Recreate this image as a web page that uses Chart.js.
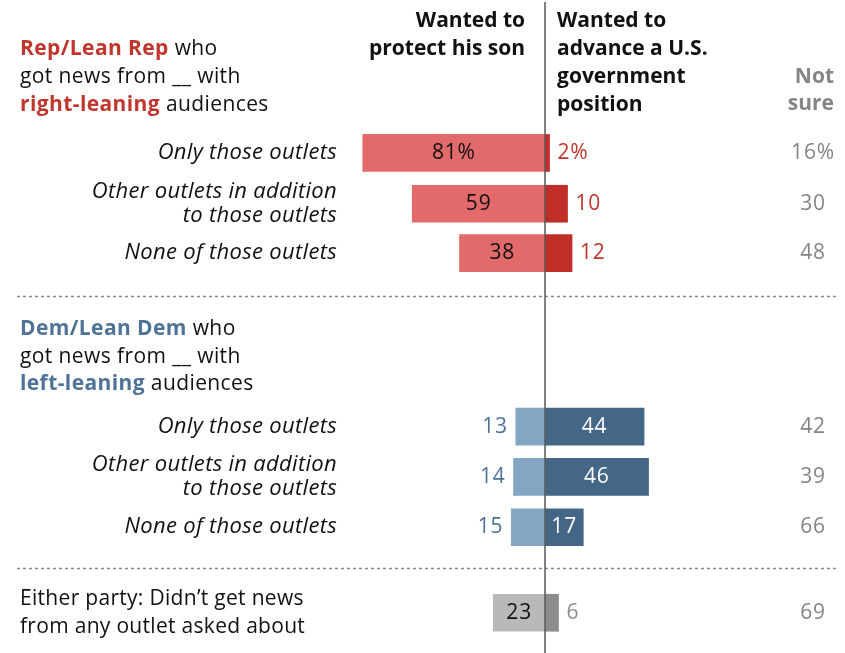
<!DOCTYPE html>
<html>
<head>
<meta charset="utf-8">
<script src="https://cdn.jsdelivr.net/npm/chart.js@4.4.1/dist/chart.umd.min.js"></script>
<style>
html,body{margin:0;padding:0;background:#fff}
#wrap{width:845px;height:653px;position:relative}
</style>
</head>
<body>
<div id="wrap"><canvas id="grafico"></canvas></div>
<script>

/* DATA */

const groups=["rep","rep","rep","dem","dem","dem","none"]

const rowLabels=[
"Only those outlets",
"Other outlets in addition\nto those outlets",
"None of those outlets",
"Only those outlets",
"Other outlets in addition\nto those outlets",
"None of those outlets",
"Either party: Didn\u2019t get news\nfrom any outlet asked about"
]

const protectSon=[81,59,38,13,14,15,23]
const advancePosition=[2,10,12,44,46,17,6]
const notSure=[16,30,48,42,39,66,69]

const colHeaders=["Wanted to\nprotect his son","Wanted to\nadvance a U.S.\ngovernment\nposition","Not\nsure"]

/* LAYOUT */

// row slots in units of one row pitch
const rowSlot=[0,1.01,1.99,5.44,6.44,7.44,9.14]
const sepSlot=[2.84,8.25]

const palette={
rep:{protect:"#e36a6a",advance:"#bf2f27",inside:"#111",outside:"#c0362c"},
dem:{protect:"#83a7c3",advance:"#446687",inside:"#fff",outside:"#4f7298"},
none:{protect:"#b9b9b9",advance:"#8c8c8c",inside:"#111",outside:"#8c8c8c"}
}

const GRAY="#858585"
const FONT="'Open Sans', 'Noto Sans', sans-serif"

/* TEXT HELPERS */

function setFont(ctx,spec,spacing){
ctx.font=spec+" "+FONT
ctx.letterSpacing=(spacing||0)+"px"
}

function runs(ctx,x,y,parts){
let cx=x
parts.forEach(p=>{
if(p.bold) setFont(ctx,"bold 21px",0.4)
else setFont(ctx,"21px",0.4)
ctx.fillStyle=p.color||"#111"
ctx.textAlign="left"
ctx.fillText(p.t,cx,y)
cx+=ctx.measureText(p.t).width
})
}

/* LABELS, HEADERS, RULES */

const annotate={
id:"annotate",
afterDatasetsDraw(chart){
const ctx=chart.ctx
const xs=chart.scales.x
const ys=chart.scales.y
const zero=xs.getPixelForValue(0)
const pMeta=chart.getDatasetMeta(0)
const aMeta=chart.getDatasetMeta(1)

ctx.save()
ctx.textBaseline="alphabetic"

// column headers
setFont(ctx,"bold 21px",0)
ctx.fillStyle="#111"
ctx.textAlign="right"
colHeaders[0].split("\n").forEach((l,i)=>ctx.fillText(l,zero-20,27+i*28))
ctx.textAlign="left"
colHeaders[1].split("\n").forEach((l,i)=>ctx.fillText(l,zero+12,27+i*28))
ctx.fillStyle=GRAY
ctx.textAlign="right"
colHeaders[2].split("\n").forEach((l,i)=>ctx.fillText(l,834,83+i*27))

// group headings
const red=palette.rep.outside, blue=palette.dem.outside
runs(ctx,20,55,[{t:"Rep/Lean Rep",bold:true,color:red},{t:" who"}])
runs(ctx,20,83,[{t:"got news from __ with"}])
runs(ctx,20,111,[{t:"right-leaning",bold:true,color:red},{t:" audiences"}])
runs(ctx,20,335,[{t:"Dem/Lean Dem",bold:true,color:blue},{t:" who"}])
runs(ctx,20,363,[{t:"got news from __ with"}])
runs(ctx,20,390,[{t:"left-leaning",bold:true,color:blue},{t:" audiences"}])

ctx.textBaseline="middle"

rowLabels.forEach((lab,i)=>{
const pBar=pMeta.data[i]
const aBar=aMeta.data[i]
const y=pBar.y
const c=palette[groups[i]]
const lines=lab.split("\n")

// row label
ctx.fillStyle="#111"
if(groups[i]==="none"){
setFont(ctx,"21px",0.3)
ctx.textAlign="left"
lines.forEach((l,k)=>ctx.fillText(l,20,y-14+k*28))
}else{
setFont(ctx,"italic 22px",0.3)
ctx.textAlign="right"
if(lines.length===1) ctx.fillText(lines[0],337,y)
else lines.forEach((l,k)=>ctx.fillText(l,337,y-12+k*24))
}

const pct=i===0?"%":""
setFont(ctx,"21px",0.8)

// protect his son
if(groups[i]==="dem"){
ctx.fillStyle=c.outside
ctx.textAlign="right"
ctx.fillText(protectSon[i]+pct,pBar.x-8,y)
}else{
ctx.fillStyle="#111"
ctx.textAlign="center"
ctx.fillText(protectSon[i]+pct,(pBar.x+pBar.base)/2,y)
}

// advance a U.S. government position
if(groups[i]==="dem"){
ctx.fillStyle=c.inside
ctx.textAlign="center"
ctx.fillText(advancePosition[i]+pct,(aBar.x+aBar.base)/2,y)
}else{
ctx.fillStyle=c.outside
ctx.textAlign="left"
ctx.fillText(advancePosition[i]+pct,aBar.x+8,y)
}

// not sure, centred in its column
ctx.fillStyle=GRAY
ctx.textAlign="center"
ctx.fillText(notSure[i]+pct,813,y)
})

ctx.letterSpacing="0px"

// dotted separators
ctx.strokeStyle="#8a8a8a"
ctx.lineWidth=1.5
ctx.setLineDash([3,3])
sepSlot.forEach(s=>{
const y=Math.round(ys.getPixelForValue(s))+0.5
ctx.beginPath()
ctx.moveTo(17,y)
ctx.lineTo(837,y)
ctx.stroke()
})
ctx.setLineDash([])

// zero line
ctx.strokeStyle="#555"
ctx.lineWidth=1.5
ctx.beginPath()
ctx.moveTo(zero,2)
ctx.lineTo(zero,chart.height)
ctx.stroke()

ctx.restore()
}
}

/* CHART */

const ctx=document.getElementById("grafico")

new Chart(ctx,{
type:"bar",
data:{
datasets:[
{
label:"Wanted to protect his son",
data:protectSon.map((v,i)=>({x:-v,y:rowSlot[i]})),
backgroundColor:groups.map(g=>palette[g].protect),
barThickness:37,
grouped:false
},
{
label:"Wanted to advance a U.S. government position",
data:advancePosition.map((v,i)=>({x:v,y:rowSlot[i]})),
backgroundColor:groups.map(g=>palette[g].advance),
barThickness:37,
grouped:false
}
]
},
options:{
indexAxis:"y",
responsive:true,
maintainAspectRatio:false,
animation:false,
layout:{padding:0},
plugins:{legend:{display:false},tooltip:{enabled:false}},
scales:{
x:{type:"linear",display:false,min:-242.2,max:133.3},
y:{type:"linear",display:false,reverse:true,offset:false,min:-3.04,max:9.94}
}
},
plugins:[annotate]
})

</script>
</body>
</html>
